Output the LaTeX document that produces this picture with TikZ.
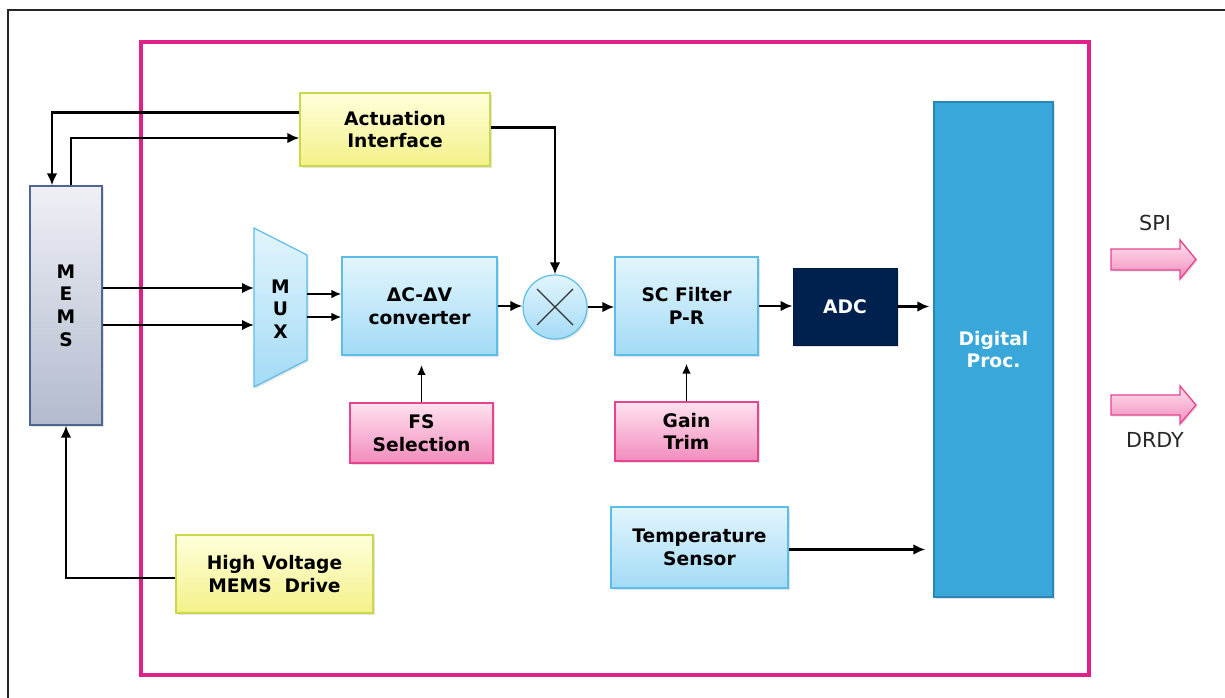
\documentclass[tikz,border=0pt]{standalone}
\usepackage{fontspec}
\setmainfont{DejaVu Sans}
\usepackage{tikz}
\usetikzlibrary{positioning, calc, arrows.meta, shadows}

\definecolor{framepink}{HTML}{E0218A}
\definecolor{skytop}{HTML}{E2F5FD}
\definecolor{skybot}{HTML}{A3DBF5}
\definecolor{skyedge}{HTML}{5CBDE9}
\definecolor{rosetop}{HTML}{FFE2EF}
\definecolor{rosebot}{HTML}{F28CBD}
\definecolor{roseedge}{HTML}{E6448F}
\definecolor{lemontop}{HTML}{FFFFDC}
\definecolor{lemonbot}{HTML}{F3F188}
\definecolor{lemonedge}{HTML}{C9D94A}
\definecolor{slatetop}{HTML}{EEF0F5}
\definecolor{slatebot}{HTML}{B2BACD}
\definecolor{slateedge}{HTML}{4E6690}
\definecolor{adcnavy}{HTML}{00204E}
\definecolor{digblue}{HTML}{3AA7DA}
\definecolor{digedge}{HTML}{2B86B8}

\begin{document}
\begin{tikzpicture}[x=0.75pt, y=-0.75pt,
    shad/.style={drop shadow={shadow xshift=1.2pt, shadow yshift=-1.2pt, opacity=0.22}},
    boxtxt/.style={font=\fontsize{14}{17}\selectfont\bfseries, align=center, inner sep=2pt},
    blubox/.style={rectangle, boxtxt, shad, draw=skyedge, top color=skytop, bottom color=skybot, line width=0.9pt},
    pinkbox/.style={rectangle, boxtxt, shad, draw=roseedge, top color=rosetop, bottom color=rosebot, line width=0.9pt},
    yelbox/.style={rectangle, boxtxt, shad, draw=lemonedge, top color=lemontop, bottom color=lemonbot, line width=0.9pt},
    memsbox/.style={rectangle, boxtxt, shad, draw=slateedge, top color=slatetop, bottom color=slatebot, line width=0.9pt},
    adcbox/.style={rectangle, boxtxt, shad, fill=adcnavy, draw=adcnavy!80!black, text=white, line width=0.6pt},
    digbox/.style={rectangle, boxtxt, shad, fill=digblue, draw=digedge, text=white, line width=0.9pt},
    mixer/.style={circle, shad, draw=skyedge, top color=skytop, bottom color=skybot, line width=0.9pt},
    arr/.style={-{Latex[length=9pt, width=8pt]}, line width=2.2pt},
    thinarr/.style={-{Latex[length=7.5pt, width=6.5pt]}, line width=1.4pt},
    outarrow/.style={draw=roseedge, top color=rosetop, bottom color=rosebot, line width=1pt, shad},
    iolbl/.style={font=\fontsize{15.5}{18}\selectfont, text=black!85},
]
\useasboundingbox (0,0) rectangle (1225,698);

% Frames
\draw[black!85, line width=2pt] (8,698) -- (8,10) -- (1225,10);
\draw[framepink, line width=2.8pt] (141,42) rectangle (1089,675);

% Sensor and actuation
\node[memsbox, minimum width=54pt, minimum height=179.25pt] (mems) at (66,305.5) {M\\E\\M\\S};
\node[yelbox, minimum width=142.5pt, minimum height=54.75pt] (act) at (395,129.5) {Actuation\\Interface};
\node[yelbox, minimum width=147.75pt, minimum height=58.5pt] (hv) at (274.5,574) {High Voltage\\MEMS\ \ Drive};

% Analog chain
\draw[draw=skyedge, top color=skytop, bottom color=skybot, line width=0.9pt, shad]
  (254,228) -- (307,255) -- (307,360) -- (254,387) -- cycle;
\node[boxtxt, minimum width=39.75pt, minimum height=119.25pt] (mux) at (280.5,309) {M\\U\\X};
\node[blubox, minimum width=116.25pt, minimum height=73.5pt] (conv) at (419.5,306) {ΔC-ΔV\\converter};
\node[mixer, minimum size=48pt] (mix) at (555,307) {};
\draw[line width=0.9pt, black!80] ([shift={(-18,-18)}]mix.center) -- ([shift={(18,18)}]mix.center);
\draw[line width=0.9pt, black!80] ([shift={(-18,18)}]mix.center) -- ([shift={(18,-18)}]mix.center);
\node[blubox, minimum width=107.25pt, minimum height=73.5pt] (sc) at (686.5,306) {SC Filter\\P-R};
\node[adcbox, minimum width=78pt, minimum height=57.75pt] (adc) at (845,306.5) {ADC};

% Trim inputs
\node[pinkbox, minimum width=107.25pt, minimum height=45pt] (fs) at (421.5,433) {FS\\Selection};
\node[pinkbox, minimum width=107.25pt, minimum height=44.25pt] (gain) at (686.5,431.5) {Gain\\Trim};

% Digital side
\node[blubox, minimum width=132.75pt, minimum height=60.75pt] (temp) at (699.5,547.5) {Temperature\\Sensor};
\node[digbox, minimum width=89.25pt, minimum height=371.25pt] (dig) at (993.5,349.5) {Digital\\Proc.};

% Outputs
\draw[outarrow] (1111,249) -- (1180,249) -- (1180,240) -- (1196,259.5) -- (1180,279) -- (1180,270) -- (1111,270) -- cycle;
\draw[outarrow] (1111,395) -- (1180,395) -- (1180,386) -- (1196,405) -- (1180,424) -- (1180,415) -- (1111,415) -- cycle;
\node[iolbl] (spilbl) at (1155,223) {SPI};
\node[iolbl] (drdylbl) at (1155,440) {DRDY};

% Arrows
\draw[arr] ([yshift=13pt]act.west) -| ([xshift=-10.5pt]mems.north);
\draw[arr] ([xshift=3.75pt]mems.north) |- ([yshift=-6.4pt]act.west);
\draw[arr] ([yshift=1.5pt]act.east) -| (mix.north);
\coordinate (muxin1) at (254,288);
\coordinate (muxin2) at (254,325);
\coordinate (muxout1) at (307,294);
\coordinate (muxout2) at (307,317);
\draw[arr] (mems.east |- muxin1) -- (muxin1);
\draw[arr] (mems.east |- muxin2) -- (muxin2);
\draw[thinarr] (muxout1) -- (conv.west |- muxout1);
\draw[thinarr] (muxout2) -- (conv.west |- muxout2);
\draw[arr] (conv.east) -- (conv.east -| mix.west);
\draw[arr] (mix.east) -- (mix.east -| sc.west);
\draw[arr] (sc.east) -- (sc.east -| adc.west);
\draw[arr, shorten >=3pt] (adc.east) -- (adc.east -| dig.west);
\draw[thinarr, shorten >=7pt] (fs.north) -- (fs.north |- conv.south);
\draw[thinarr, shorten >=6pt] (gain.north) -- (gain.north |- sc.south);
\draw[arr, shorten >=6pt] ([yshift=-1.5pt]temp.east) -- ([yshift=-1.5pt]temp.east -| dig.west);
\draw[arr] ([yshift=-3pt]hv.west) -| (mems.south);

\end{tikzpicture}
\end{document}
